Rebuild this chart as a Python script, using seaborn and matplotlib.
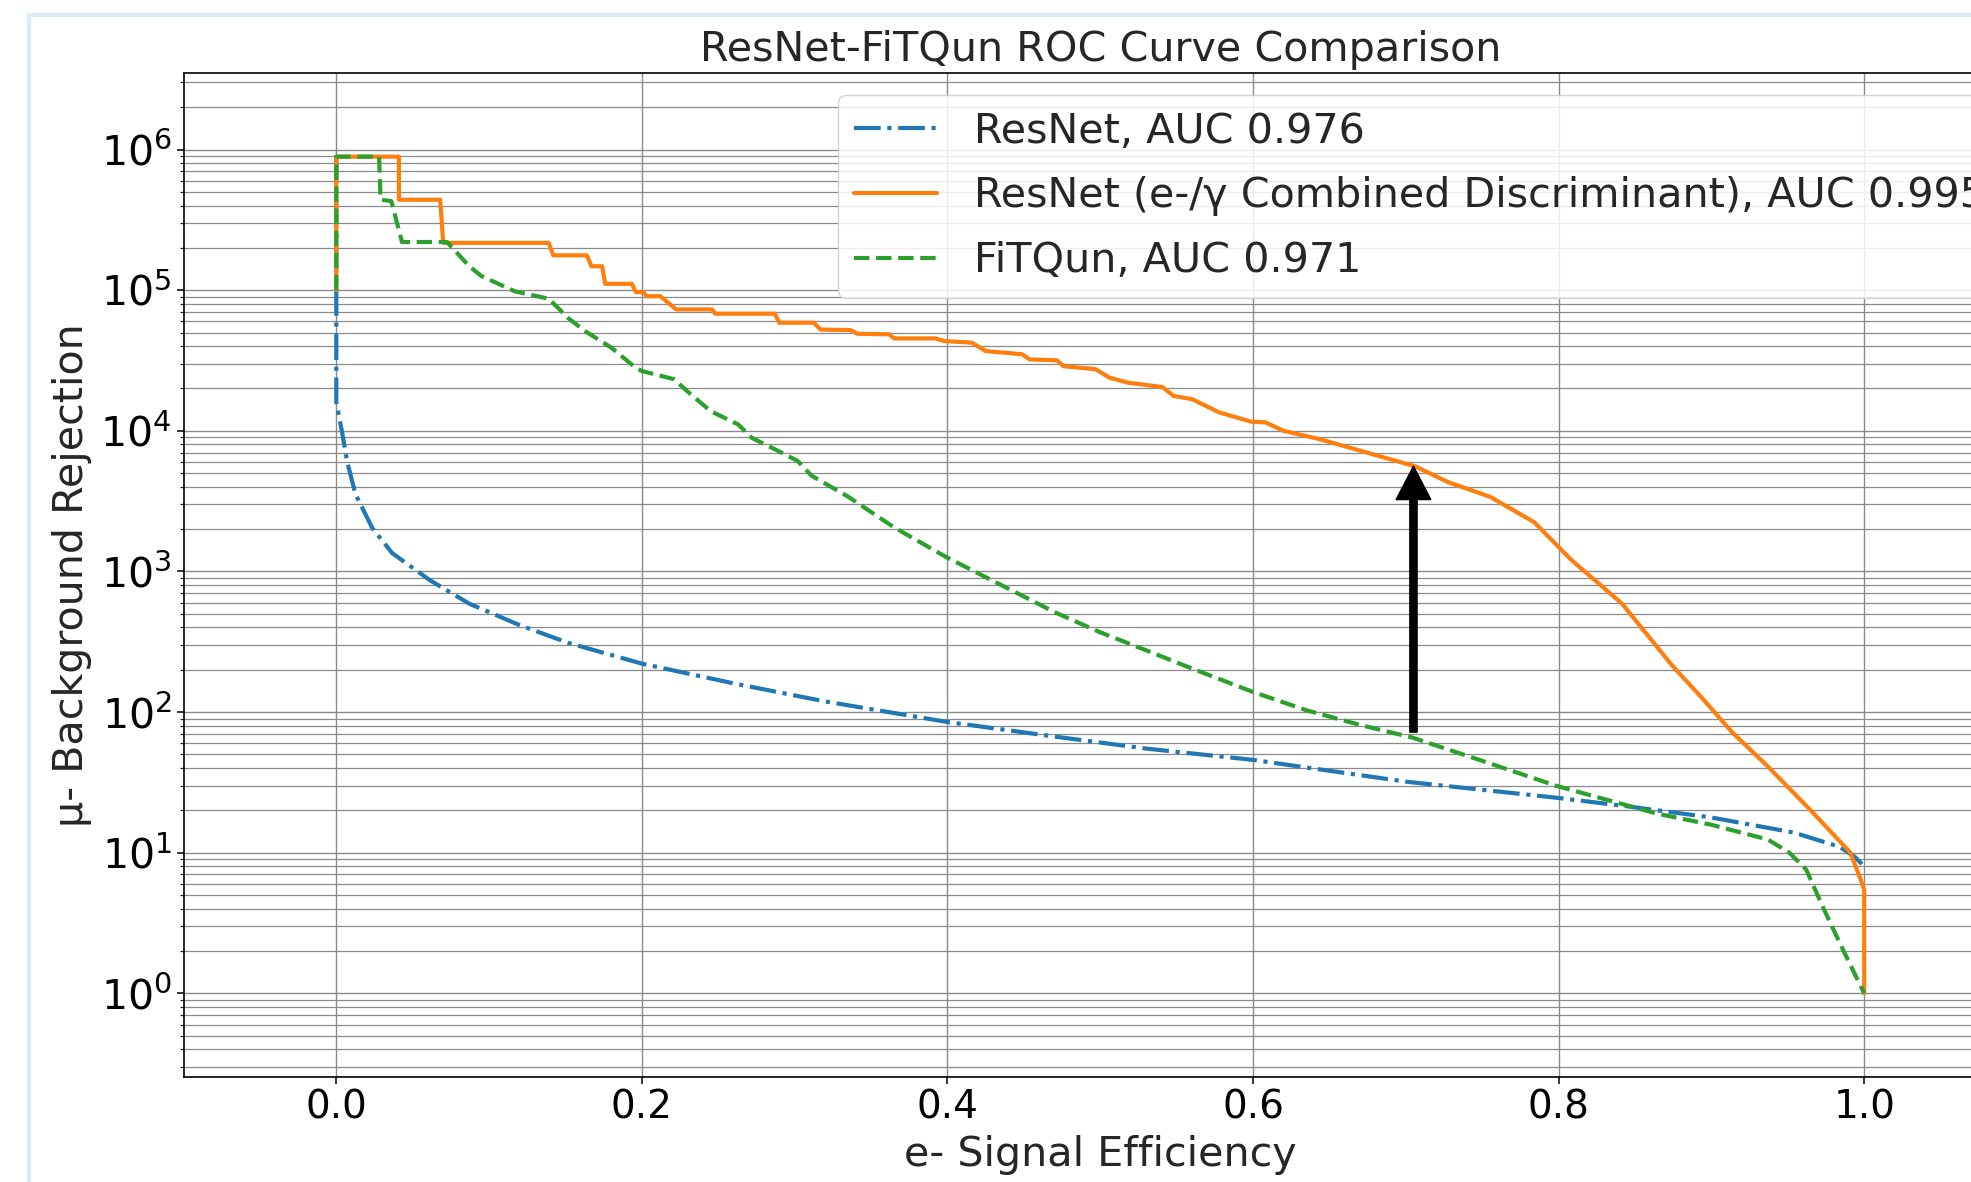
import numpy as np
import pandas as pd
import matplotlib
matplotlib.use("Agg")
import matplotlib.pyplot as plt
import seaborn as sns
from matplotlib.ticker import LogLocator, NullFormatter
from matplotlib.lines import Line2D

# ---------------- data ----------------
labels = ["ResNet, AUC 0.976",
          "ResNet (e-/\u03b3 Combined Discriminant), AUC 0.995",
          "FiTQun, AUC 0.971"]

# ResNet (dash-dot, blue)
resnet_eff = [0.0, 0.0, 0.004, 0.007, 0.0125, 0.0235, 0.0366, 0.061, 0.087, 0.12,
              0.152, 0.2, 0.26, 0.32, 0.4, 0.47, 0.53, 0.6, 0.7, 0.8,
              0.846, 0.9, 0.954, 0.984, 0.994, 1.0]
resnet_rej = [8.9e5, 1.6e4, 9500, 6100, 3560, 2040, 1350, 870, 590, 415,
              310, 221, 160, 119, 85, 67, 55, 45.7, 32, 24.5,
              21.3, 17.8, 13.9, 11.0, 9.3, 8.0]

# ResNet combined discriminant (solid, orange)
comb_eff = [0.0, 0.0, 0.041, 0.041, 0.068, 0.070, 0.139, 0.142, 0.164, 0.167,
            0.174, 0.176, 0.1935, 0.196, 0.201, 0.203, 0.212, 0.2225, 0.246, 0.248,
            0.287, 0.29, 0.3125, 0.317, 0.3366, 0.341, 0.362, 0.365, 0.392, 0.398,
            0.416, 0.425, 0.449, 0.4537, 0.4716, 0.476, 0.497, 0.506, 0.518, 0.5406,
            0.548, 0.56, 0.578, 0.599, 0.608, 0.62, 0.644, 0.6706, 0.687, 0.706,
            0.728, 0.755, 0.784, 0.8086, 0.8415, 0.8745, 0.895, 0.914, 0.937, 0.965,
            0.991, 0.996, 1.0, 1.0]
comb_rej = [1.0e5, 8.9e5, 8.9e5, 4.4e5, 4.4e5, 2.17e5, 2.17e5, 1.77e5, 1.77e5, 1.48e5,
            1.48e5, 1.11e5, 1.11e5, 9.7e4, 9.7e4, 9.06e4, 9.06e4, 7.3e4, 7.3e4, 6.8e4,
            6.8e4, 5.87e4, 5.87e4, 5.25e4, 5.2e4, 4.9e4, 4.85e4, 4.54e4, 4.54e4, 4.35e4,
            4.23e4, 3.69e4, 3.5e4, 3.22e4, 3.17e4, 2.88e4, 2.74e4, 2.39e4, 2.2e4, 2.05e4,
            1.77e4, 1.68e4, 1.35e4, 1.16e4, 1.15e4, 1.0e4, 8.7e3, 7.2e3, 6.4e3, 5.6e3,
            4.3e3, 3.4e3, 2.24e3, 1.2e3, 590, 213, 122, 71, 41, 20,
            10, 7.2, 5.5, 1.0]

# FiTQun (dashed, green)
fq_eff = [0.0, 0.0, 0.028, 0.029, 0.036, 0.043, 0.0725, 0.087, 0.095, 0.117,
          0.139, 0.152, 0.163, 0.18, 0.196, 0.2, 0.221, 0.23, 0.245, 0.263,
          0.272, 0.287, 0.302, 0.311, 0.335, 0.365, 0.3995, 0.44, 0.47, 0.5,
          0.53, 0.56, 0.6, 0.635, 0.67, 0.704, 0.75, 0.798, 0.864, 0.9,
          0.937, 0.951, 0.962, 0.973, 0.987, 1.0]
fq_rej = [1.0e5, 8.9e5, 8.9e5, 4.4e5, 4.3e5, 2.2e5, 2.2e5, 1.48e5, 1.26e5, 9.8e4,
          8.7e4, 6.3e4, 5.1e4, 3.9e4, 2.8e4, 2.66e4, 2.33e4, 1.9e4, 1.38e4, 1.11e4,
          8.9e3, 7.4e3, 6.1e3, 4.8e3, 3.4e3, 2.06e3, 1.26e3, 753, 514, 369,
          275, 204, 139, 103, 81, 66, 45, 30, 19, 15.8,
          12.4, 10.0, 7.6, 4.1, 1.95, 1.0]

# annotation arrow (efficiency, rejection from -> to)
arrow_eff = 0.705
arrow_from = 72
arrow_to = 5.6e3

title = "ResNet-FiTQun ROC Curve Comparison"
xlabel = "e- Signal Efficiency"
ylabel = "\u03bc- Background Rejection"

# ---------------- style ----------------
sns.set_style("white")
plt.rcParams['font.family'] = ['DejaVu Sans']
plt.rcParams['axes.edgecolor'] = 'black'
plt.rcParams['axes.linewidth'] = 1.2

W, H = 1971, 1182
fig = plt.figure(figsize=(W / 100, H / 100), dpi=100)
ax_left, ax_right, ax_top, ax_bottom = 183.5, 2017.0, 73.0, 1077.0
ax = fig.add_axes([ax_left / W, (H - ax_bottom) / H,
                   (ax_right - ax_left) / W, (ax_bottom - ax_top) / H])
ax.set_yscale('log')

colors = ['#1f77b4', '#ff7f0e', '#2ca02c']
series = [(resnet_eff, resnet_rej, '-.'), (comb_eff, comb_rej, '-'), (fq_eff, fq_rej, '--')]
for (xe, yr, ls), lab, col in zip(series, labels, colors):
    df = pd.DataFrame({'eff': xe, 'rej': yr})
    sns.lineplot(data=df, x='eff', y='rej', sort=False, estimator=None, ax=ax,
                 color=col, linestyle=ls, linewidth=3.0, label=lab)

ax.margins(x=0.1, y=0.1)
ax.set_xticks([0.0, 0.2, 0.4, 0.6, 0.8, 1.0])
ax.yaxis.set_major_locator(LogLocator(base=10, numticks=30))
ax.yaxis.set_minor_locator(LogLocator(base=10, subs=np.arange(2, 10), numticks=100))
ax.yaxis.set_minor_formatter(NullFormatter())

ax.grid(True, which='major', axis='both', color='#8a8a8a', linewidth=1.0)
ax.grid(True, which='minor', axis='y', color='#8a8a8a', linewidth=0.9)
ax.set_axisbelow(True)

ax.tick_params(axis='both', which='major', length=5, width=1.1,
               direction='out', left=True, bottom=True, colors='black')
ax.tick_params(axis='x', which='major', labelsize=28)
ax.tick_params(axis='y', which='major', labelsize=29.5)
ax.tick_params(axis='y', which='minor', length=3, width=0.9, left=True)

ax.set_title(title, fontsize=29.7, pad=9)
ax.set_xlabel(xlabel, fontsize=29.7, labelpad=6)
ax.set_ylabel(ylabel, fontsize=29.7, labelpad=6)

ax.annotate('', xy=(arrow_eff, arrow_to), xytext=(arrow_eff, arrow_from),
            arrowprops=dict(facecolor='black', edgecolor='black', width=5.2,
                            headwidth=25, headlength=24, shrink=0.0))

leg = ax.legend(loc='upper left', bbox_to_anchor=((838 - ax_left) / (ax_right - ax_left),
                                                  (ax_bottom - 95) / (ax_bottom - ax_top)),
                borderaxespad=0.0, fontsize=29.7, handlelength=2.0, handletextpad=0.9,
                labelspacing=0.6, framealpha=0.85, edgecolor='0.8', fancybox=True)

# screenshot frame (light blue border at top-left)
fig.add_artist(Line2D([29 / W, 29 / W], [0, 1 - 15 / H], transform=fig.transFigure,
                      color='#dcebf3', linewidth=3))
fig.add_artist(Line2D([29 / W, 1], [1 - 15 / H, 1 - 15 / H], transform=fig.transFigure,
                      color='#dcebf3', linewidth=3))

fig.savefig('out.png', dpi=100)
